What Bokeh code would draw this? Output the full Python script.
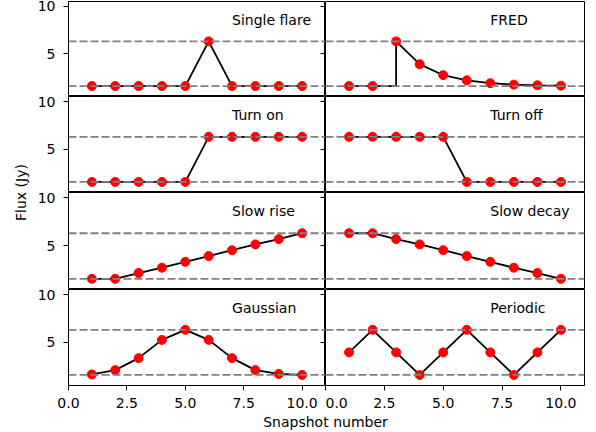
import math
from bokeh.plotting import figure
from bokeh.layouts import row, column
from bokeh.models import Range1d, Span, FixedTicker, PrintfTickFormatter, LinearAxis, Label
from bokeh.embed import file_html
from bokeh.resources import INLINE

# ---------------- data ----------------
snapshots = [1, 2, 3, 4, 5, 6, 7, 8, 9, 10]
single_flare = [1.6, 1.6, 1.6, 1.6, 1.6, 6.3, 1.6, 1.6, 1.6, 1.6]
fred = [1.6, 1.6, 6.3, 3.9, 2.75, 2.2, 1.9, 1.75, 1.68, 1.64]
fred_line_x = [1, 2, 3, 3, 4, 5, 6, 7, 8, 9, 10]
fred_line_y = [1.6, 1.6, 1.6, 6.3, 3.9, 2.75, 2.2, 1.9, 1.75, 1.68, 1.64]
turn_on = [1.6, 1.6, 1.6, 1.6, 1.6, 6.3, 6.3, 6.3, 6.3, 6.3]
turn_off = [6.3, 6.3, 6.3, 6.3, 6.3, 1.6, 1.6, 1.6, 1.6, 1.6]
slow_rise = [1.6, 1.6, 2.2, 2.75, 3.35, 3.95, 4.55, 5.15, 5.7, 6.3]
slow_decay = [6.3, 6.3, 5.7, 5.15, 4.55, 3.95, 3.35, 2.75, 2.2, 1.6]
gaussian = [1.65, 2.1, 3.35, 5.25, 6.3, 5.25, 3.35, 2.1, 1.7, 1.6]
periodic = [3.95, 6.3, 3.95, 1.6, 3.95, 6.3, 3.95, 1.6, 3.95, 6.3]

titles = ["Single flare", "FRED", "Turn on", "Turn off",
          "Slow rise", "Slow decay", "Gaussian", "Periodic"]
quiescent_level = 1.6
flare_level = 6.3
x_ticks = [0, 2.5, 5, 7.5, 10]
y_ticks = [5, 10]

panels = [
    (snapshots, single_flare, snapshots, single_flare),
    (snapshots, fred, fred_line_x, fred_line_y),
    (snapshots, turn_on, snapshots, turn_on),
    (snapshots, turn_off, snapshots, turn_off),
    (snapshots, slow_rise, snapshots, slow_rise),
    (snapshots, slow_decay, snapshots, slow_decay),
    (snapshots, gaussian, snapshots, gaussian),
    (snapshots, periodic, snapshots, periodic),
]

# ---------------- styling / layout ----------------
FONT = "DejaVu Sans"
FS = "14px"
ROW_H = [96, 96, 97, 96]       # frame heights of the four rows
TOP_B = 1
BOTTOM_B = 25
YLAB_W = 34
LEFT_B = 33
FRAME_WL = 258
FRAME_WR = 259
RIGHT_B = 12
XLAB_H = 22

CSS = [":host{overflow:visible !important;} .bk-Canvas, .bk-layer, svg{overflow:visible !important;}"]


def style_axis(ax):
    ax.major_tick_out = 5
    ax.major_tick_in = 0
    ax.minor_tick_line_color = None
    ax.axis_line_color = None
    ax.major_tick_line_color = "black"
    ax.major_tick_line_width = 1
    ax.major_label_text_font = FONT
    ax.major_label_text_font_size = FS
    ax.major_label_text_color = "black"


def make_panel(i):
    col = i % 2
    r = i // 2
    bottom = (r == 3)
    top = (r == 0)
    w = (LEFT_B + FRAME_WL) if col == 0 else (FRAME_WR + RIGHT_B)
    h = ROW_H[r] - (TOP_B if top else 0) + (TOP_B if top else 0) + (BOTTOM_B if bottom else 0)
    p = figure(width=w, height=h,
               x_range=Range1d(0, 11), y_range=Range1d(0.5, 10.5),
               output_backend="svg", toolbar_location=None,
               min_border_left=LEFT_B if col == 0 else 0,
               min_border_right=0 if col == 0 else RIGHT_B,
               min_border_top=TOP_B if top else 0,
               min_border_bottom=BOTTOM_B if bottom else 0,
               x_axis_location="below" if bottom else None,
               y_axis_location="left" if col == 0 else None,
               stylesheets=CSS)
    p.grid.visible = False
    p.outline_line_color = "black"
    p.outline_line_width = 1
    p.background_fill_color = "white"
    p.border_fill_color = "white"

    if bottom:
        p.xaxis.ticker = FixedTicker(ticks=x_ticks)
        p.xaxis.formatter = PrintfTickFormatter(format="%.1f")
        for ax in p.xaxis:
            style_axis(ax)
            ax.major_label_standoff = 7
    if col == 0:
        p.yaxis.ticker = FixedTicker(ticks=y_ticks)
        for ax in p.yaxis:
            style_axis(ax)
            ax.major_label_standoff = 8
        # ticks of the right-hand column's y axis, pointing into this panel
        rax = LinearAxis(ticker=FixedTicker(ticks=y_ticks), major_tick_in=5, major_tick_out=0,
                         major_label_text_font_size="1px", major_label_text_color=None,
                         major_label_standoff=0,
                         axis_line_color=None, minor_tick_line_color=None,
                         major_tick_line_color="black")
        p.add_layout(rax, "right")

    for lvl in (quiescent_level, flare_level):
        p.add_layout(Span(location=lvl, dimension="width", line_color="#808080",
                          line_dash="8 3", line_width=1.8))

    px, py, lx, ly = panels[i]
    p.line(lx, ly, line_color="black", line_width=1.8)
    p.scatter(px, py, size=9, fill_color="red", line_color="red", line_width=1)

    p.add_layout(Label(x=7, y=8.55, text=titles[i], text_font=FONT, text_font_size=FS,
                       text_align="left", text_baseline="middle", text_color="black"))
    return p


figs = [make_panel(i) for i in range(8)]
grid = column(*[row(figs[2 * r], figs[2 * r + 1]) for r in range(4)])

stack_h = sum(ROW_H) + BOTTOM_B
ylab = figure(width=YLAB_W, height=stack_h, x_range=Range1d(0, YLAB_W), y_range=Range1d(0, stack_h),
              output_backend="svg", toolbar_location=None, min_border=0,
              x_axis_location=None, y_axis_location=None)
ylab.grid.visible = False
ylab.outline_line_color = None
ylab.add_layout(Label(x=20, y=stack_h - (ROW_H[0] + ROW_H[1]), text="Flux (Jy)", angle=math.pi / 2,
                      text_font=FONT, text_font_size=FS, text_align="center",
                      text_baseline="middle", text_color="black"))

total_w = YLAB_W + LEFT_B + FRAME_WL + FRAME_WR + RIGHT_B
xlab = figure(width=total_w, height=XLAB_H, x_range=Range1d(0, total_w), y_range=Range1d(0, XLAB_H),
              output_backend="svg", toolbar_location=None, min_border=0,
              x_axis_location=None, y_axis_location=None)
xlab.grid.visible = False
xlab.outline_line_color = None
xlab.add_layout(Label(x=YLAB_W + LEFT_B + FRAME_WL, y=11, text="Snapshot number",
                      text_font=FONT, text_font_size=FS, text_align="center",
                      text_baseline="middle", text_color="black"))

root = column(row(ylab, grid), xlab)

open("out.html", "w").write(file_html(root, INLINE))
